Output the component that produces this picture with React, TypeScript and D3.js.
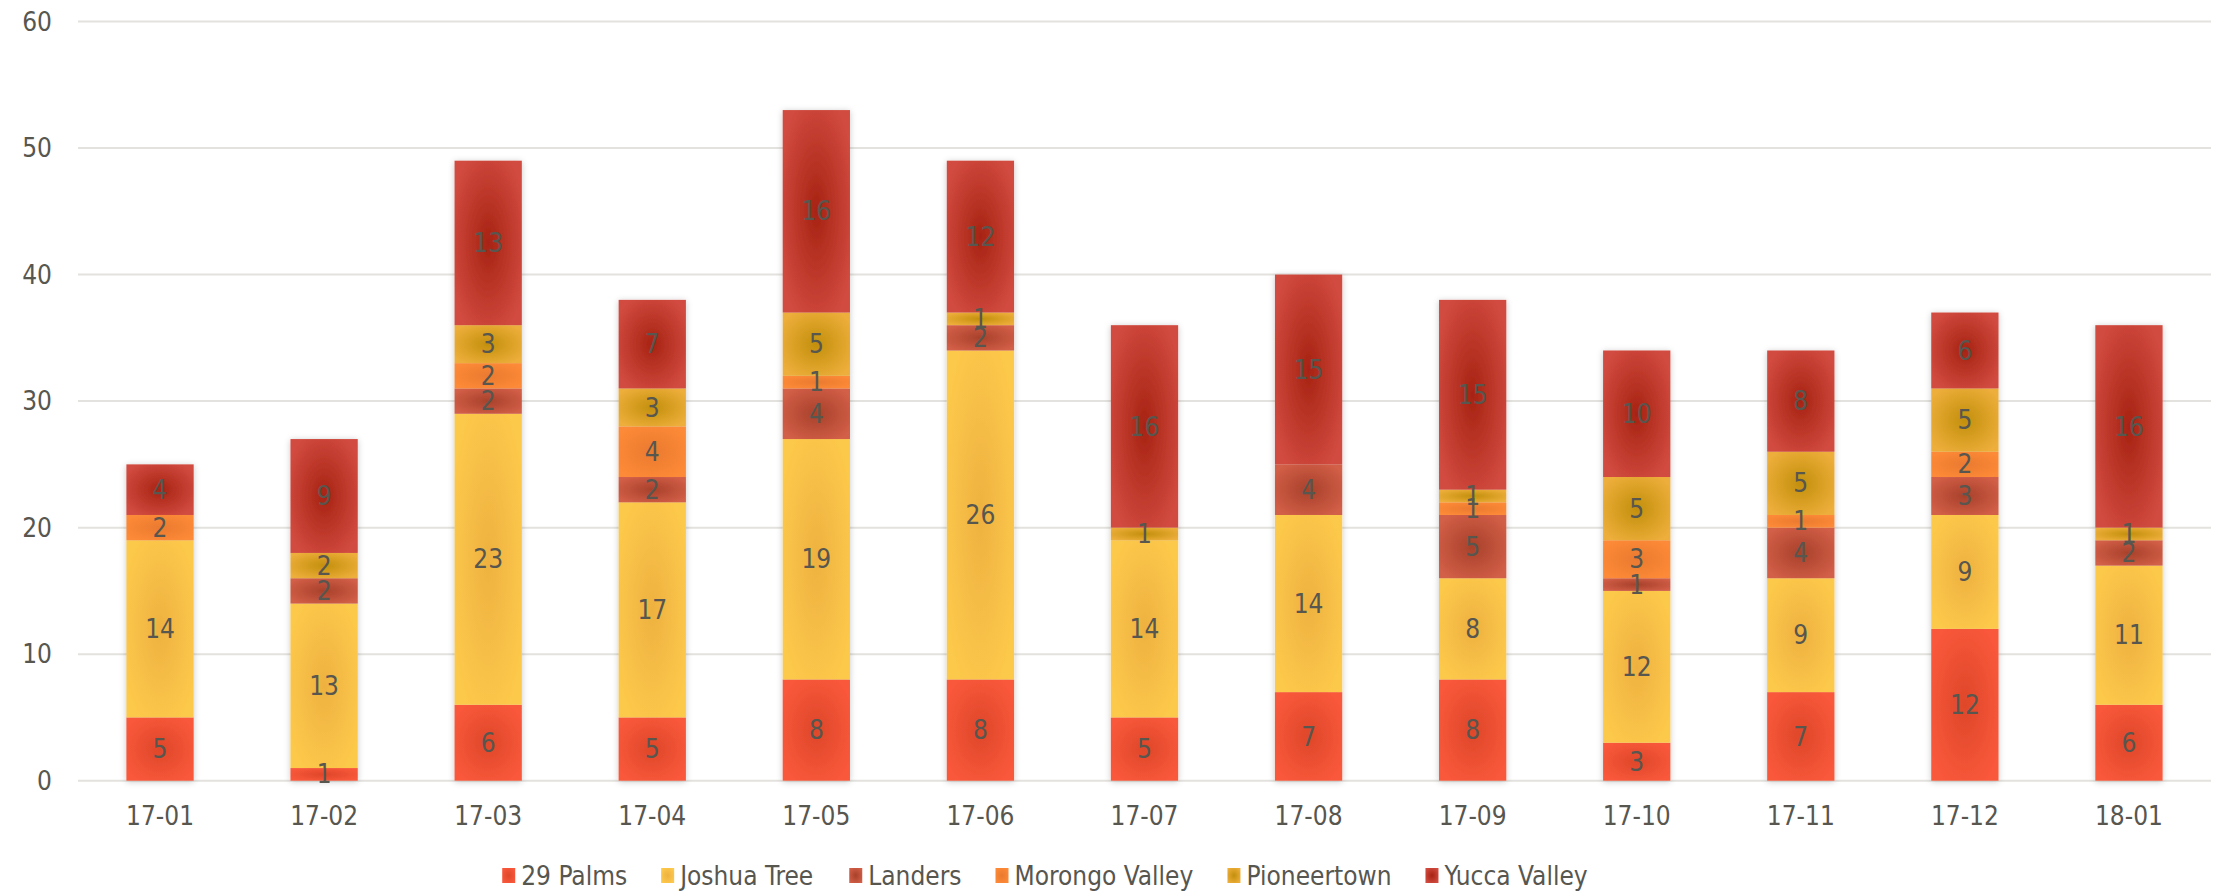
import React, { useEffect, useRef } from 'react';
import * as d3 from 'd3';

const categories = ['17-01', '17-02', '17-03', '17-04', '17-05', '17-06', '17-07', '17-08', '17-09', '17-10', '17-11', '17-12', '18-01'];
const seriesNames = ['29 Palms', 'Joshua Tree', 'Landers', 'Morongo Valley', 'Pioneertown', 'Yucca Valley'];

const palms29 = [5, 1, 6, 5, 8, 8, 5, 7, 8, 3, 7, 12, 6];
const joshuaTree = [14, 13, 23, 17, 19, 26, 14, 14, 8, 12, 9, 9, 11];
const landers = [0, 2, 2, 2, 4, 2, 0, 4, 5, 1, 4, 3, 2];
const morongoValley = [2, 0, 2, 4, 1, 0, 0, 0, 1, 3, 1, 2, 0];
const pioneertown = [0, 2, 3, 3, 5, 1, 1, 0, 1, 5, 5, 5, 1];
const yuccaValley = [4, 9, 13, 7, 16, 12, 16, 15, 15, 10, 8, 6, 16];

const yTicks = [0, 10, 20, 30, 40, 50, 60];

// edge colour, centre colour for each series (Excel path gradient look)
const edgeColors = ['#fa583b', '#fdc94b', '#d25e47', '#fd8a37', '#edae3a', '#d24b40'];
const centerColors = ['#de4729', '#eeb140', '#a8412a', '#ea7a2f', '#c38f0c', '#a72312'];

const W = 2218;
const H = 891;
const FONT = '"Liberation Sans Narrow", "DejaVu Sans Condensed", "Arial Narrow", sans-serif';
const TEXT = '#57564f';
const FS = '26px';

export default function App() {
  const svgRef = useRef<SVGSVGElement>(null);

  useEffect(() => {
    if (!svgRef.current) return;
    const svg = d3.select(svgRef.current);
    svg.selectAll('*').remove();

    const values = [palms29, joshuaTree, landers, morongoValley, pioneertown, yuccaValley];
    const rows = categories.map((c, i) => {
      const r: Record<string, number | string> = { cat: c };
      seriesNames.forEach((s, k) => { r[s] = values[k][i]; });
      return r;
    });
    const stacked = d3.stack<Record<string, number | string>>()
      .keys(seriesNames)
      .value((d, key) => d[key] as number)(rows);

    const x = d3.scaleBand<string>()
      .domain(categories)
      .range([78, 2211])
      .paddingInner(0.59)
      .paddingOuter(0.295);
    const y = d3.scaleLinear().domain([0, 60]).range([780.7, 21.5]);

    const defs = svg.append('defs');
    seriesNames.forEach((s, k) => {
      const g = defs.append('radialGradient')
        .attr('id', `grad${k}`)
        .attr('cx', 0.5).attr('cy', 0.5).attr('r', 0.6);
      g.append('stop').attr('offset', '0%').attr('stop-color', centerColors[k]);
      g.append('stop').attr('offset', '100%').attr('stop-color', edgeColors[k]);
    });
    const f = defs.append('filter').attr('id', 'shadow')
      .attr('x', '-30%').attr('y', '-10%').attr('width', '160%').attr('height', '120%');
    f.append('feDropShadow')
      .attr('dx', 0).attr('dy', 1).attr('stdDeviation', 3)
      .attr('flood-color', '#000').attr('flood-opacity', 0.22);

    // gridlines
    svg.append('g')
      .selectAll('line')
      .data(yTicks)
      .join('line')
      .attr('x1', 78).attr('x2', 2211)
      .attr('y1', d => y(d)).attr('y2', d => y(d))
      .attr('stroke', '#e3e2de')
      .attr('stroke-width', 2);

    // y tick labels
    svg.append('g')
      .selectAll('text')
      .data(yTicks)
      .join('text')
      .attr('x', 52)
      .attr('y', d => y(d))
      .attr('dy', '0.35em')
      .attr('text-anchor', 'end')
      .style('font-family', FONT)
      .style('font-size', FS)
      .style('fill', TEXT)
      .text(d => d);

    // bars: one group per category so the shadow wraps the whole column
    const cols = svg.append('g')
      .selectAll('g')
      .data(categories)
      .join('g')
      .attr('filter', 'url(#shadow)');

    cols.each(function (cat, i) {
      const col = d3.select(this);
      stacked.forEach((layer, k) => {
        const seg = layer[i];
        if (seg[1] - seg[0] <= 0) return;
        col.append('rect')
          .attr('x', x(cat)!)
          .attr('width', x.bandwidth())
          .attr('y', y(seg[1]))
          .attr('height', y(seg[0]) - y(seg[1]))
          .attr('fill', `url(#grad${k})`);
      });
    });

    // data labels
    const labels = svg.append('g')
      .style('font-family', FONT)
      .style('font-size', FS)
      .style('fill', TEXT)
      .attr('text-anchor', 'middle');
    stacked.forEach(layer => {
      layer.forEach((seg, i) => {
        const v = seg[1] - seg[0];
        if (v <= 0) return;
        labels.append('text')
          .attr('x', x(categories[i])! + x.bandwidth() / 2)
          .attr('y', y((seg[0] + seg[1]) / 2))
          .attr('dy', '0.35em')
          .text(v);
      });
    });

    // x axis labels
    svg.append('g')
      .selectAll('text')
      .data(categories)
      .join('text')
      .attr('x', d => x(d)! + x.bandwidth() / 2)
      .attr('y', 816)
      .attr('dy', '0.35em')
      .attr('text-anchor', 'middle')
      .style('font-family', FONT)
      .style('font-size', FS)
      .style('fill', TEXT)
      .text(d => d);

    // legend, measured then centred
    const legend = svg.append('g');
    const items = legend.selectAll('g')
      .data(seriesNames)
      .join('g');
    items.append('rect')
      .attr('y', 868)
      .attr('width', 13)
      .attr('height', 15)
      .attr('fill', (_, k) => `url(#grad${k})`);
    items.append('text')
      .attr('x', 19)
      .attr('y', 875.5)
      .attr('dy', '0.35em')
      .style('font-family', FONT)
      .style('font-size', FS)
      .style('fill', TEXT)
      .text(d => d);

    const layoutLegend = () => {
      const gap = 34;
      const widths: number[] = [];
      items.select<SVGTextElement>('text').each(function () {
        widths.push(19 + this.getBBox().width);
      });
      const total = d3.sum(widths) + gap * (widths.length - 1);
      let cx = 1045.5 - total / 2;
      items.attr('transform', (_, k) => {
        const t = `translate(${cx},0)`;
        cx += widths[k] + gap;
        return t;
      });
    };
    layoutLegend();
    if (document.fonts && document.fonts.ready) {
      document.fonts.ready.then(layoutLegend);
    }
    requestAnimationFrame(layoutLegend);
  }, []);

  return (
    <svg
      ref={svgRef}
      width={W}
      height={H}
      style={{ position: 'absolute', left: 0, top: 0, background: '#fff' }}
    />
  );
}
